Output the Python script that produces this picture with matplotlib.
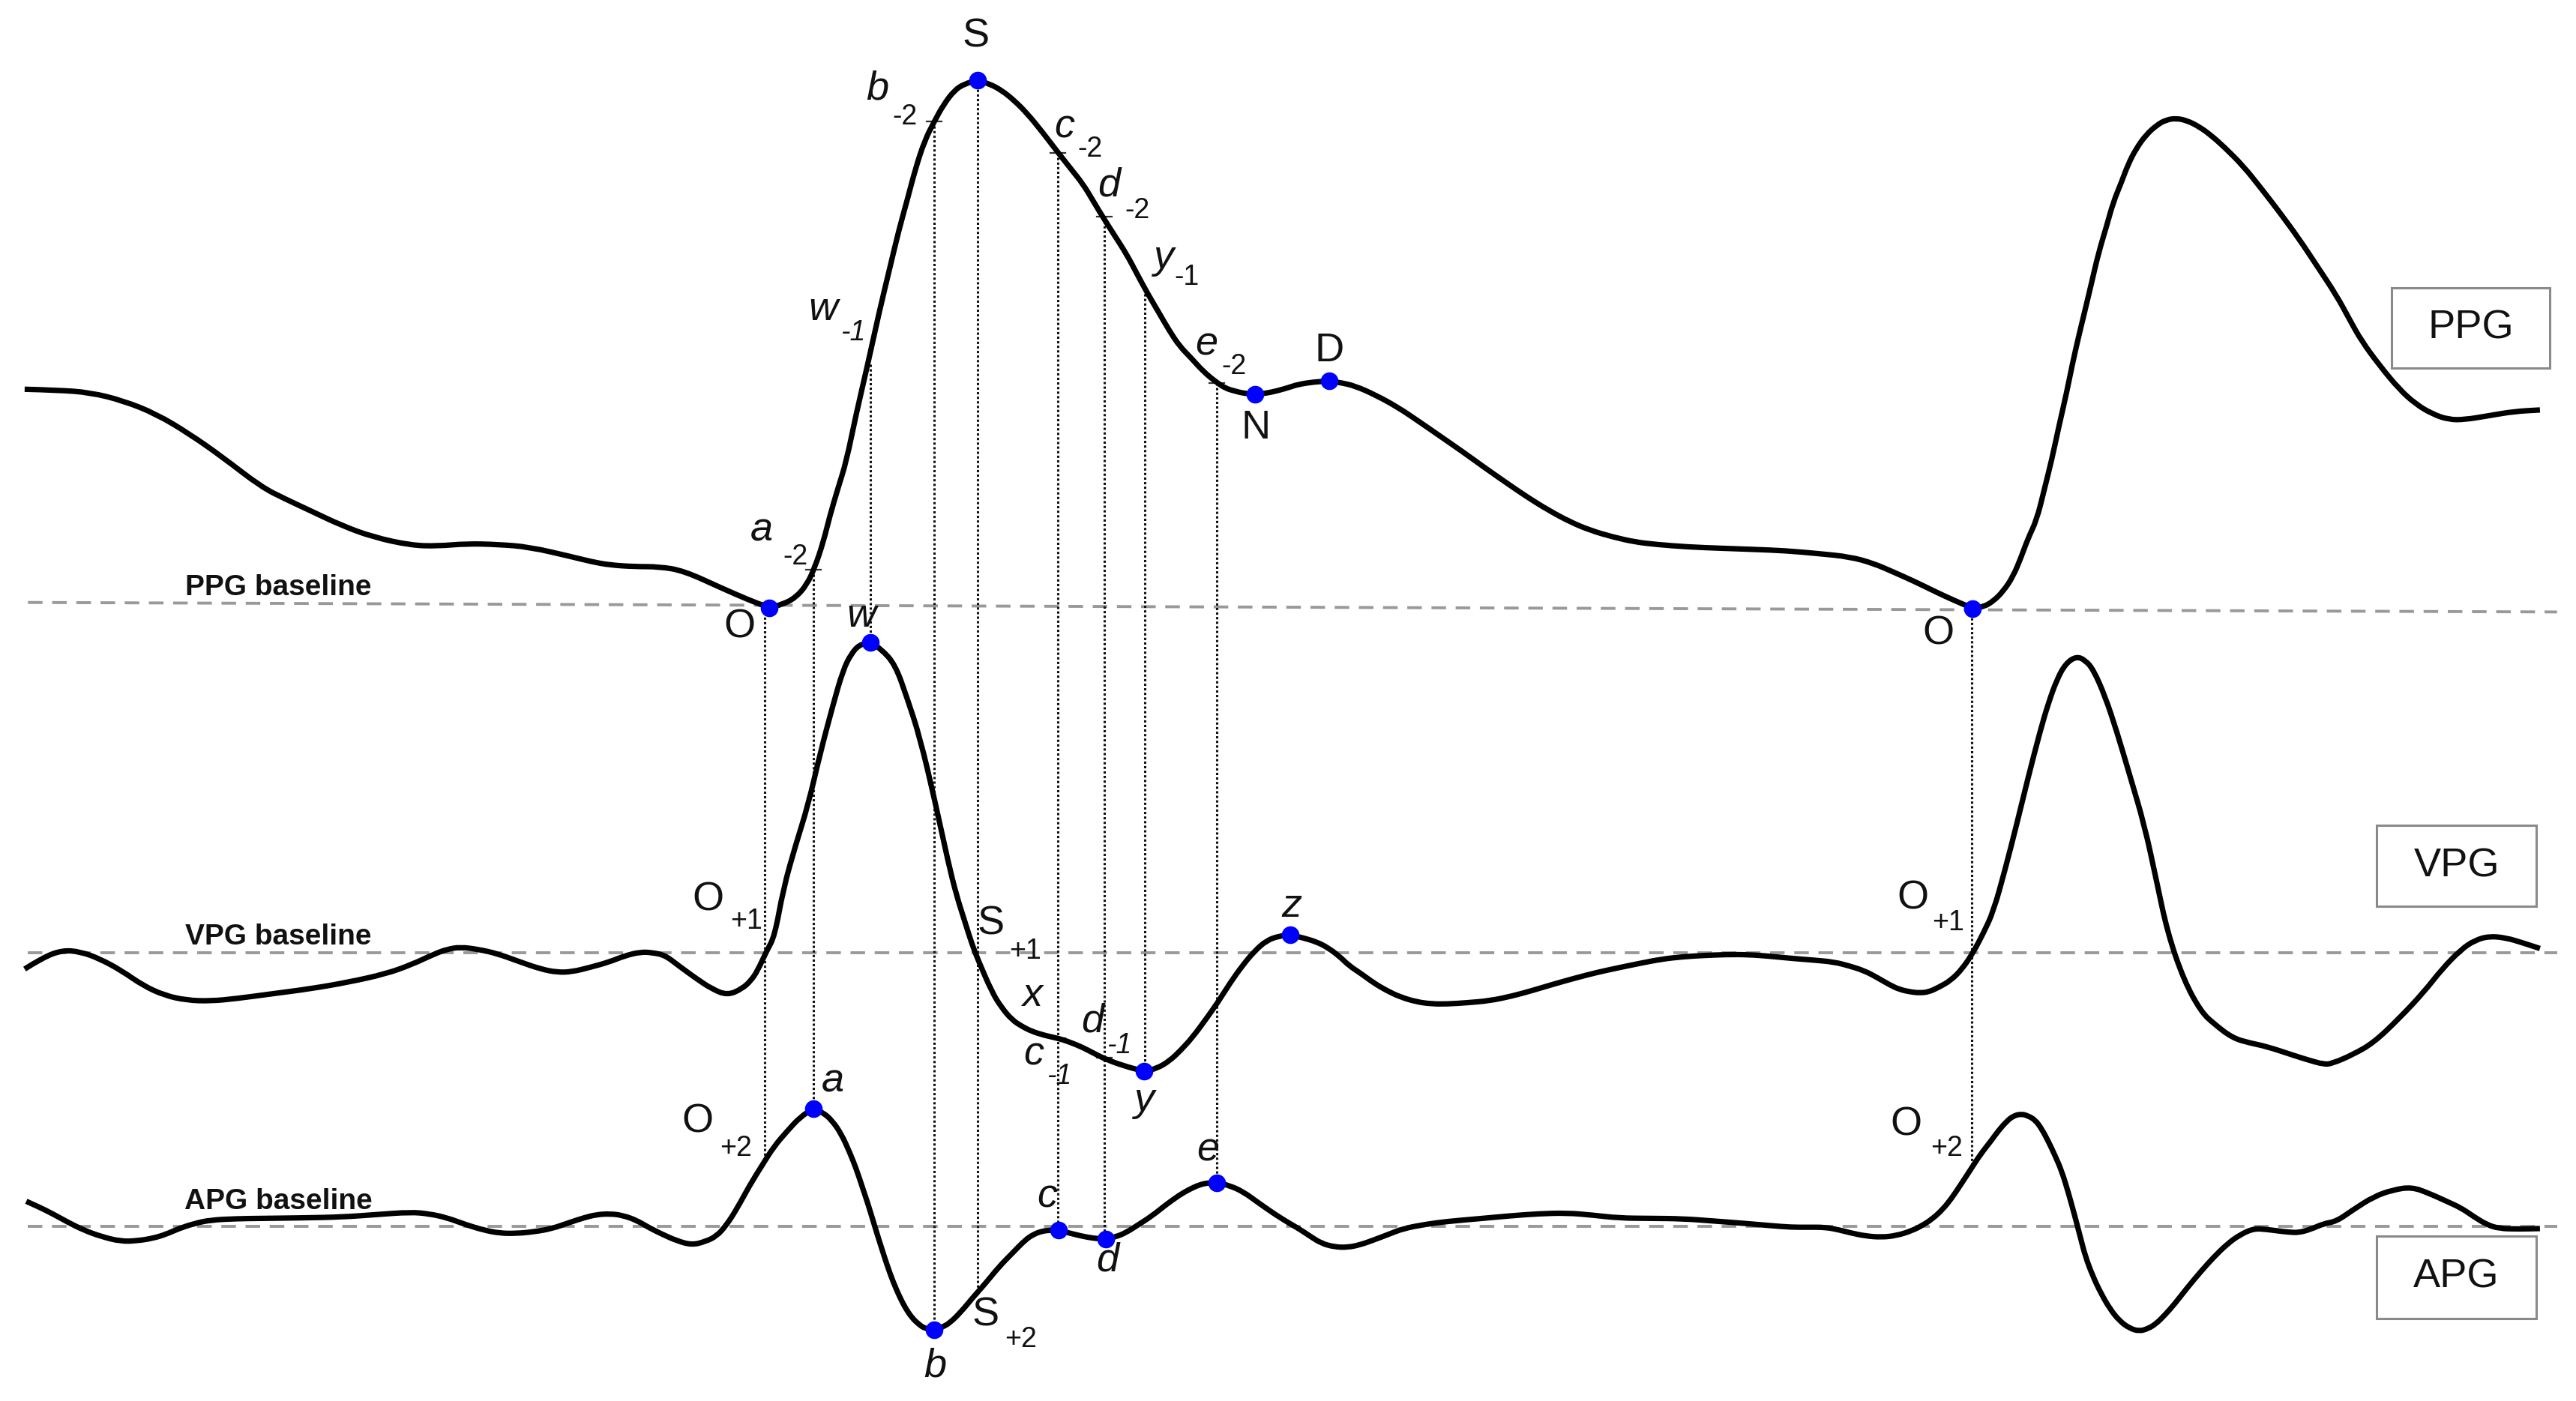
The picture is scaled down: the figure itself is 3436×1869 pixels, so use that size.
import matplotlib.pyplot as plt
from matplotlib.patches import Rectangle, PathPatch
from matplotlib.path import Path
from matplotlib import font_manager

# coordinates (x to the right, y downwards)
ppg_x = [15, 35, 55, 75, 95, 115, 135, 159, 174, 189, 208, 227, 250, 266, 284, 303, 322, 348, 360, 371, 386, 401,
         416, 439, 455, 468,
         476, 484, 491, 496, 501, 505, 510, 515, 521, 528, 535, 541.5, 547, 552, 557, 562.5, 568.5, 574,
         580.7, 587, 594.7, 602, 609.5, 617, 625, 634, 643.7, 651, 659, 665, 671, 678, 685.7, 692, 698.5,
         705, 711.7, 718, 724.9, 732, 740.5, 746, 751, 757, 763.6, 770, 777, 784, 790, 800, 808.7, 816,
         824.6, 837, 850.7, 864, 877, 890, 903, 916, 929.3, 942, 955.5, 968, 981.7, 995, 1007.8, 1027,
         1047, 1067, 1086.5, 1106, 1125.7, 1140, 1152, 1165, 1178, 1189, 1200.3, 1207, 1213, 1219, 1225,
         1230, 1234, 1239.4, 1244, 1248.5, 1253, 1257.6, 1261, 1265, 1269, 1272.8, 1277, 1282, 1286, 1291,
         1295, 1300, 1306, 1312.4, 1318, 1324.4, 1331, 1338, 1345, 1353.4, 1365, 1376.2, 1387, 1399, 1410,
         1421.9, 1430, 1437, 1448, 1460, 1470, 1480, 1490, 1500, 1515, 1530, 1545.6]
ppg_y = [237, 237.5, 239, 244, 252, 264, 278, 296.5, 304, 311, 320, 327, 332, 332.5, 331, 331.5, 333, 339, 342, 344, 345, 345,
         347.5, 358, 365, 370,
         368, 364, 356, 345, 330, 314, 297, 281, 252, 222, 190, 163, 140, 122, 103, 86, 74, 64,
         55, 51, 49, 51, 55, 61, 69, 80, 92.7, 102, 112, 122, 132, 143, 155, 167, 179,
         190, 201.6, 211, 218, 226, 233, 236.5, 238, 239.5, 240, 239.5, 238, 236, 234, 232.5, 232, 233,
         235, 240.5, 248, 257, 266, 275, 284.4, 293.5, 302.6, 310.5, 317.8, 323, 327, 330, 331.5, 333,
         333.8, 334.5, 335.3, 337, 339, 343, 348.2, 354, 360.4, 365.5, 370.3, 369.5, 366, 360, 351,
         339, 328, 316.5, 298, 280, 259, 239, 222, 204.4, 188, 172, 154, 137.3, 123, 110.8,
         100, 90.3, 82, 76.2, 73, 72, 73.5, 77, 82, 89.4, 101, 115, 129, 145.4, 162,
         180, 195, 207.5, 222.5, 237, 246, 252, 255.5, 255.5, 253, 250.5, 249.6]

vpg_x = [15, 26, 38, 49, 60.6, 74, 87, 100, 113.5, 128, 143.8, 166, 189, 212, 234.5, 250, 264.8, 272, 280,
         291, 302.6, 316, 329, 339, 348, 359, 370.7, 380, 389.6, 397, 404.7, 413, 423.7, 433, 442.6, 451.6,
         457, 461, 466.5, 471.4, 476.7, 484, 491.8, 499, 507, 513, 518, 523, 529.6, 536, 544.7, 552, 559.8,
         569, 577, 582, 587.4, 591.5, 595.4, 603.6, 609.5, 615.9, 622, 628, 636, 644.4, 651, 658.6, 666,
         673, 684, 696.3, 704, 711.6, 718.5, 725.8, 733.5, 741, 748.5, 756.4, 763.5, 770.6, 778, 785, 793,
         801.5, 808, 814.8, 821, 828, 836, 843.6, 852, 862, 871, 880.3, 893, 906.5, 920, 932.7, 946, 958.9,
         972, 985, 998, 1011, 1024, 1037.5, 1050, 1063.6, 1077, 1090, 1103, 1116, 1125, 1134.4, 1142, 1150,
         1156, 1163, 1168, 1173.6, 1180, 1187, 1194, 1200.7, 1207, 1213, 1220, 1227, 1234, 1241.5, 1246.5,
         1251.7, 1257, 1263.5, 1269, 1274, 1281, 1288, 1296, 1305, 1312, 1319, 1329, 1339.4, 1347.4, 1358.6,
         1369, 1379.5, 1395.5, 1405, 1414, 1419, 1432, 1444.6, 1460, 1475, 1486, 1497.7, 1506, 1514.6, 1525,
         1535, 1545.6]
vpg_y = [590, 583, 578.5, 579.5, 583.7, 591, 600, 606, 609, 609.5, 608, 605, 602, 598, 593, 587.5, 580.6, 578, 576.6,
         578, 580.6, 585.5, 590, 592, 591.7, 589, 585.7, 582, 579.6, 580, 581.6, 588, 595.8, 602, 606, 602,
         597, 591, 579, 570, 541, 515, 490, 459, 428.8, 408, 398, 392.5, 391.2, 395, 404.5, 425, 449,
         488, 525, 545, 562, 575, 585, 604, 613.5, 621, 625, 628, 630.5, 632.3, 634.5, 637.6, 641.5,
         645, 649, 652.3, 650.5, 646, 639.5, 631.4, 621, 610.4, 598.5, 587.4, 579, 572.7, 570, 569.2, 571,
         573.6, 577, 582, 588, 592.6, 598.5, 603, 607, 610, 611.2, 611.3, 610.5, 609.3, 606.5, 603, 599, 595.4,
         592, 589.2, 586.5, 584, 582.5, 581.7, 581.2, 581.2, 582.2, 583.5, 584.5, 585.7, 588, 591, 595, 599.7,
         602.5, 604, 604.5, 604, 601, 597, 590, 580, 568, 555, 530, 502.7, 474, 445, 428,
         413.6, 404, 399.6, 402, 408, 424, 445, 472, 502.7, 535, 568, 597, 616, 623.5, 632,
         635, 637.2, 642.5, 645.5, 648, 647.6, 642, 634.7, 620, 604, 590, 578, 572.5, 570, 571,
         574, 577.5]

apg_x = [16, 24, 32, 41, 51, 62, 73.5, 83, 92.8, 101, 108.9, 118, 128, 144, 160, 184, 208, 229, 249.7, 261,
         272, 283, 294.5, 304, 313.7, 325, 336, 346, 355.4, 363, 371.4, 379, 387.4, 395, 403, 412, 421, 429,
         436, 442, 448.4, 456, 463.8, 471, 479, 487, 495, 501, 506.4, 512, 517, 521, 524.6, 528.5, 532.2,
         536, 539.8, 543.5, 547.4, 551, 555, 559, 562.6, 568.4, 573, 577.9, 585, 592, 600, 607.7, 616, 624,
         629, 634, 639, 644, 651, 658.6, 666, 673, 679, 685, 693, 701.4, 709.5, 717.7, 724, 730, 735, 740.5,
         748, 756.4, 766, 776.8, 785, 791, 797, 804, 812, 820, 828, 835.8, 845, 854, 867, 880.3, 900, 919.6,
         936, 953.5, 969, 985, 1004, 1024, 1044, 1063.6, 1077, 1090, 1100, 1110.8, 1119, 1126.4, 1135,
         1144.8, 1154, 1163, 1170, 1176, 1182, 1187.3, 1193, 1199.4, 1205, 1211.3, 1216, 1221, 1225, 1229.8,
         1234, 1238.6, 1242.5, 1246.5, 1250.5, 1254.6, 1258.6, 1262.6, 1266, 1269, 1273.5, 1278.6, 1284,
         1289.8, 1296, 1301.8, 1307, 1312, 1317.5, 1323.4, 1331, 1339.4, 1347, 1355.4, 1363, 1371.4, 1379,
         1387.4, 1393, 1398.8, 1406, 1414, 1421.8, 1432, 1444.6, 1456, 1467.5, 1478, 1489, 1497.7, 1505,
         1513, 1520.6, 1533, 1545.6]
apg_y = [731.4, 735, 739, 744, 749, 753, 755.8, 755.5, 754, 751.5, 748, 745, 742.8, 742, 741.8, 741.5, 741, 739.5, 738, 739,
         741.4, 745.5, 749, 750.8, 751, 750, 748, 744.5, 741.4, 739.5, 739, 740, 743, 747.5, 751.5, 755.5, 758, 756,
         752.7, 746, 736, 722, 709.4, 698, 688.7, 680, 675, 677.5, 682.3, 690.5, 701.5, 711.5, 722.3, 734, 746.3,
         758.5, 770.3, 780.5, 789.5, 796.5, 802.4, 806.2, 808.8, 809.8, 808.2, 805.6, 798.5, 790, 781, 771.5, 763, 754.8,
         751.5, 749.6, 749, 749, 750.8, 752.7, 754, 754.4, 753, 750.6, 745.5, 740, 733.5, 727.6, 724, 721.3, 720.2, 720,
         721.8, 725.5, 732.5, 740, 745, 748.5, 752.5, 757, 759.2, 759.5, 757.8, 755, 751.5, 748, 745.5, 743.7, 742, 740.2,
         739, 738.5, 739.8, 741.6, 741.8, 742, 743.5, 745, 746.2, 747.2, 747.2, 747.2, 748.8, 750.7, 752.5,
         753.3, 752.3, 749.5, 746, 742, 736.5, 730, 721.5, 711.7, 703, 695, 688.5, 682.8, 679.5, 678.2,
         679.3, 682, 687.5, 695, 703.5, 713, 726, 740.5, 753.5, 765, 777, 787.7, 797,
         804.3, 808.8, 810.5, 809, 806, 800.5, 793.8, 784, 774, 765.5, 757.3, 751.8, 748, 748.5,
         749.6, 750.2, 750.5, 748.5, 745, 743.6, 736.5, 728.5, 724.5, 722.7, 726.5, 731.5, 735.5, 740.5,
         745.5, 748, 748.3, 748]

# fiducial points (blue dots)
dot_x = [468, 1200.5, 594.7, 763.6, 808.7, 529.6, 696.3, 785, 495, 568.4, 644, 673, 740.5]
dot_y = [370, 370.5, 49, 240, 232, 391.2, 652.3, 569.2, 675, 809.8, 749, 754.4, 720]

# dotted vertical guides
guide_x = [465.5, 495, 529.5, 568.5, 594.7, 643.8, 672, 696.5, 740.5, 1200]
guide_top = [370, 347, 222, 74, 49, 93, 132, 179, 233, 370.5]
guide_bottom = [705, 675, 391, 810, 788, 749, 754, 652, 720, 709]

# small crossing ticks
tick_x = [495, 568.5, 643.8, 672, 740.5, 644, 672]
tick_y = [347, 74, 93, 132, 233, 632, 644]

# baselines
baseline_names = ['PPG baseline', 'VPG baseline', 'APG baseline']
baseline_left = [366.8, 580, 746.8]
baseline_right = [372.6, 580, 746.8]

# point labels: text, x, y, italic
labels = [("S", 594, 22, False), ("b", 534, 54, True), ("c", 647.6, 77.4, True),
          ("d", 675, 113, True), ("y", 707.8, 157, True), ("e", 734, 209.8, True),
          ("N", 764, 260.6, False), ("D", 808.7, 213.8, False), ("w", 501, 188.4, True),
          ("a", 463.4, 323, True), ("O", 450, 382, False), ("w", 524, 375, True),
          ("O", 431, 548, False), ("S", 602.7, 562.3, False), ("x", 628, 606.3, True),
          ("d", 664.7, 621.8, True), ("c", 629, 641.8, True), ("y", 696, 670, True),
          ("z", 786, 551.8, True), ("a", 507, 658.5, True), ("O", 424.3, 683, False),
          ("c", 637.3, 728.6, True), ("d", 673.8, 767.4, True), ("e", 735, 700.3, True),
          ("b", 569, 832, True), ("S", 599.5, 800.9, False), ("O", 1179.4, 386, False),
          ("O", 1164, 547, False), ("O", 1160, 684.7, False)]

subs = [("-2", 550.7, 71.3, False), ("-2", 663.3, 90.6, False), ("-2", 692, 128.3, False),
        ("-1", 722, 169, False), ("-2", 751, 223, False), ("-1", 519, 202.7, True),
        ("-2", 484, 339.3, False), ("+1", 454, 561, False), ("+1", 624, 579, False),
        ("-1", 681, 636.5, True), ("-1", 644.4, 655.4, True), ("+2", 447.8, 699, False),
        ("+2", 621, 815.5, False), ("+1", 1185.5, 561.6, False), ("+2", 1184.5, 699, False)]

# signal name boxes: name, left, right, top, bottom
boxes = [("PPG", 1455.3, 1551.8, 175.3, 224.2),
         ("VPG", 1446.4, 1543.2, 502.7, 551.6),
         ("APG", 1446.4, 1543.2, 752.4, 802.6)]

names = {f.name for f in font_manager.fontManager.ttflist}
font = 'Liberation Sans' if 'Liberation Sans' in names else 'DejaVu Sans'


def smooth_path(xs, ys):
    # quadratic bezier through the midpoints, read points act as control points
    pts = list(zip(xs, ys))
    verts = [pts[0]]
    codes = [Path.MOVETO]
    for i in range(1, len(pts) - 1):
        mid = ((pts[i][0] + pts[i + 1][0]) / 2, (pts[i][1] + pts[i + 1][1]) / 2)
        verts += [pts[i], mid]
        codes += [Path.CURVE3, Path.CURVE3]
    verts.append(pts[-1])
    codes.append(Path.LINETO)
    return Path(verts, codes)


fig = plt.figure(figsize=(34.37, 18.69), dpi=100)
ax = fig.add_axes([0, 0, 1, 1])
ax.set_xlim(0, 1568)
ax.set_ylim(853, 0)
ax.axis('off')

for name, yl, yr, ty in zip(baseline_names, baseline_left, baseline_right, [357.7, 570.5, 731.4]):
    ax.plot([17, 1556], [yl, yr], color='#999999', lw=2.8, dashes=(5, 3.3), zorder=1)
    ax.text(169.5, ty, name, family=font, fontsize=28, fontweight='bold', ha='center', va='center',
            color='#111111', zorder=5)

ax.vlines(guide_x, guide_top, guide_bottom, colors='#111111', lw=2.2, linestyles=(0, (1.0, 1.0)), zorder=2)
for tx, ty in zip(tick_x, tick_y):
    ax.plot([tx - 4.5, tx + 4.5], [ty, ty], color='#333333', lw=1.6, zorder=2)

for xs, ys in [(ppg_x, ppg_y), (vpg_x, vpg_y), (apg_x, apg_y)]:
    ax.add_patch(PathPatch(smooth_path(xs, ys), fill=False, edgecolor='black', lw=5.2,
                           joinstyle='round', capstyle='butt', zorder=3))

ax.plot(dot_x, dot_y, 'o', color='#0000ff', ms=17, mew=0, zorder=4)

for t, x, y, it in labels:
    ax.text(x, y, t, family=font, fontsize=39, style='italic' if it else 'normal',
            ha='center', va='center', color='#111111', zorder=5)
for t, x, y, it in subs:
    ax.text(x, y, t, family=font, fontsize=27, style='italic' if it else 'normal',
            ha='center', va='center', color='#111111', zorder=5)

for t, l, r, top, bot in boxes:
    ax.add_patch(Rectangle((l, top), r - l, bot - top, fill=False, edgecolor='#8a8a8a', lw=2.2, zorder=5))
    ax.text((l + r) / 2, (top + bot) / 2, t, family=font, fontsize=39, ha='center', va='center',
            color='#111111', zorder=5)

fig.savefig('out.png', dpi=100)
